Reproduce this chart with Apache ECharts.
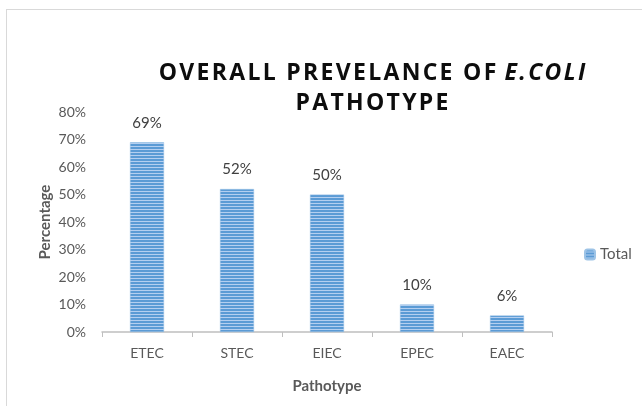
<!DOCTYPE html>
<html>
<head>
<meta charset="utf-8">
<script src="https://cdn.jsdelivr.net/npm/echarts@6/dist/echarts.min.js"></script>
<style>
  html, body { margin: 0; padding: 0; background: #fff; }
  #chart { width: 642px; height: 406px; }
  .frame { position: absolute; left: 6px; top: 9px; width: 640px; height: 400px; border: 1px solid #d9d9d9; box-sizing: border-box; pointer-events: none; }
</style>
</head>
<body>
<div id="chart"></div>
<div class="frame"></div>
<script>
  // data
  var categories = ['ETEC', 'STEC', 'EIEC', 'EPEC', 'EAEC'];
  var totals = [69, 52, 50, 10, 6];
  var yTicks = [0, 10, 20, 30, 40, 50, 60, 70, 80];

  // horizontal stripe fill like the office chart
  function stripes() {
    var c = document.createElement('canvas');
    c.width = 4; c.height = 3;
    var ctx = c.getContext('2d');
    ctx.fillStyle = '#5b9bd5';
    ctx.fillRect(0, 0, 4, 2);
    ctx.fillStyle = '#b4cff0';
    ctx.fillRect(0, 2, 4, 1);
    return c;
  }
  var fill = { image: stripes(), repeat: 'repeat' };

  // spread letters out a little (title is letter-spaced)
  function spaced(s) { return s.split('').join('\u200A'); }

  var chart = echarts.init(document.getElementById('chart'));
  var font = 'Lato, "Open Sans", sans-serif';
  var tfont = '"Open Sans", sans-serif';
  chart.setOption({
    animation: false,
    textStyle: { fontFamily: font },
    title: {
      text: '{a|' + spaced('OVERALL PREVELANCE OF') + ' \u200A}{b|' + spaced('E.COLI') + '}\n{a|' + spaced('PATHOTYPE') + '}',
      left: 367,
      top: 53,
      textAlign: 'center',
      textStyle: {
        rich: {
          a: { fontSize: 23, fontWeight: 'bold', color: '#0d0d0d', fontFamily: tfont, lineHeight: 30 },
          b: { fontSize: 23, fontWeight: 'bold', fontStyle: 'italic', color: '#0d0d0d', fontFamily: tfont, lineHeight: 30 }
        }
      }
    },
    legend: {
      orient: 'vertical',
      left: 579,
      top: 242,
      itemWidth: 10,
      itemHeight: 10,
      itemGap: 5,
      textStyle: { fontSize: 15, color: '#595959', fontFamily: font },
      data: ['Total']
    },
    grid: { left: 102, right: 90, top: 112, bottom: 74 },
    xAxis: {
      type: 'category',
      data: categories,
      name: 'Pathotype',
      nameLocation: 'middle',
      nameGap: 47,
      nameMoveOverlap: false,
      nameTextStyle: { fontSize: 15, fontWeight: 'bold', color: '#595959' },
      axisLine: { lineStyle: { color: '#bfbfbf', width: 1.5 } },
      axisTick: { show: true, length: 5, lineStyle: { color: '#bfbfbf' } },
      axisLabel: { fontSize: 14, color: '#595959', margin: 14 }
    },
    yAxis: {
      type: 'value',
      min: yTicks[0],
      max: yTicks[yTicks.length - 1],
      interval: 10,
      name: 'Percentage',
      nameLocation: 'middle',
      nameGap: 49,
      nameMoveOverlap: false,
      nameTextStyle: { fontSize: 15, fontWeight: 'bold', color: '#595959' },
      axisLine: { show: false },
      axisTick: { show: false },
      splitLine: { show: false },
      axisLabel: { fontSize: 14, color: '#595959', margin: 16, formatter: '{value}%' }
    },
    series: [{
      name: 'Total',
      type: 'bar',
      data: totals,
      barWidth: 34,
      itemStyle: { color: fill, borderColor: '#9dc3e6', borderWidth: 0.5 },
      label: { show: true, position: 'top', distance: 12, fontSize: 15, color: '#404040', formatter: '{c}%' }
    }]
  });
</script>
</body>
</html>
